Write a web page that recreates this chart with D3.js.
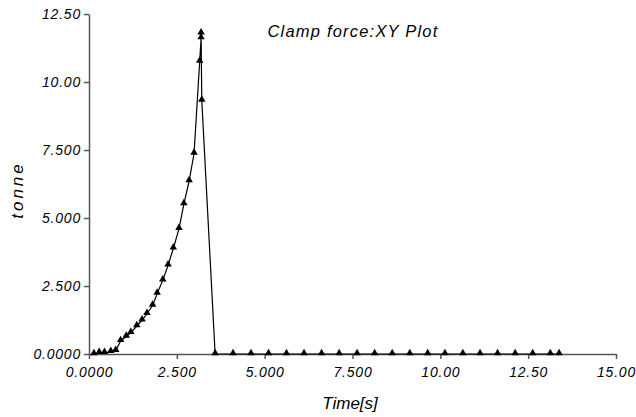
<!DOCTYPE html>
<html>
<head>
<meta charset="utf-8">
<script src="https://cdn.jsdelivr.net/npm/d3@7"></script>
<style>
  body { margin: 0; background: #fff; }
  text { font-family: "Liberation Sans", Arial, sans-serif; font-style: italic; }
</style>
</head>
<body>
<div id="chart"></div>
<script>
// clamp force vs time
const time = [0.14, 0.29, 0.44, 0.62, 0.76, 0.90, 1.06, 1.19, 1.36, 1.51, 1.65, 1.81, 1.94, 2.10,
  2.25, 2.40, 2.56, 2.70, 2.85, 2.99, 3.15, 3.19, 3.19, 3.21, 3.59,
  4.10, 4.61, 5.11, 5.62, 6.12, 6.62, 7.12, 7.63, 8.13, 8.63, 9.13, 9.64, 10.13, 10.64,
  11.13, 11.63, 12.13, 12.63, 13.13, 13.38];
const force = [0.00, 0.04, 0.04, 0.08, 0.12, 0.48, 0.64, 0.78, 1.03, 1.24, 1.48, 1.78, 2.22, 2.71,
  3.26, 3.88, 4.60, 5.51, 6.36, 7.37, 10.75, 11.61, 11.79, 9.32, 0.00,
  0, 0, 0, 0, 0, 0, 0, 0, 0, 0, 0, 0, 0, 0,
  0, 0, 0, 0, 0, 0];

const xTicks = [0, 2.5, 5, 7.5, 10, 12.5, 15];
const xTickLabels = ["0.0000", "2.500", "5.000", "7.500", "10.00", "12.50", "15.00"];
const yTicks = [0, 2.5, 5, 7.5, 10, 12.5];
const yTickLabels = ["0.0000", "2.500", "5.000", "7.500", "10.00", "12.50"];

const width = 636, height = 417;
const margin = { top: 14, right: 20, bottom: 63, left: 89 };

const svg = d3.select("#chart").append("svg")
  .attr("width", width)
  .attr("height", height);

const x = d3.scaleLinear().domain([0, 15]).range([margin.left, width - margin.right]);
const y = d3.scaleLinear().domain([0, 12.5]).range([height - margin.bottom, margin.top]);

const axisColor = "#555";

const xAxis = svg.append("g")
  .attr("transform", `translate(0,${y(0)})`)
  .call(d3.axisBottom(x).tickValues(xTicks).tickSize(5).tickSizeOuter(0)
    .tickFormat((d, i) => xTickLabels[i]));
xAxis.selectAll("text").attr("font-size", 14).attr("letter-spacing", 0.8)
  .attr("fill", "#000").attr("dy", "1.05em");

const yAxis = svg.append("g")
  .attr("transform", `translate(${x(0)},0)`)
  .call(d3.axisLeft(y).tickValues(yTicks).tickSize(5).tickSizeOuter(0)
    .tickFormat((d, i) => yTickLabels[i]));
yAxis.selectAll("text").attr("font-size", 14).attr("letter-spacing", 0.8).attr("fill", "#000");

svg.selectAll(".domain, .tick line").attr("stroke", axisColor).attr("stroke-width", 1.5);

const pts = time.map((t, i) => [t, force[i]]);

svg.append("path")
  .datum(pts)
  .attr("fill", "none")
  .attr("stroke", "#000")
  .attr("stroke-width", 1.2)
  .attr("d", d3.line().x(d => x(d[0])).y(d => y(d[1])));

const tri = d3.symbol().type(d3.symbolTriangle).size(24);
svg.append("g").selectAll("path")
  .data(pts)
  .join("path")
  .attr("d", tri)
  .attr("fill", "#000")
  .attr("transform", d => `translate(${x(d[0])},${y(d[1]) - 1})`);

svg.append("text")
  .attr("x", 353).attr("y", 37)
  .attr("text-anchor", "middle")
  .attr("font-size", 16.5)
  .attr("letter-spacing", 1.2)
  .text("Clamp force:XY Plot");

svg.append("text")
  .attr("x", 350).attr("y", 409)
  .attr("text-anchor", "middle")
  .attr("font-size", 17)
  .text("Time[s]");

svg.append("text")
  .attr("transform", "translate(23,190) rotate(-90)")
  .attr("text-anchor", "middle")
  .attr("font-size", 17)
  .attr("letter-spacing", 3)
  .text("tonne");
</script>
</body>
</html>
